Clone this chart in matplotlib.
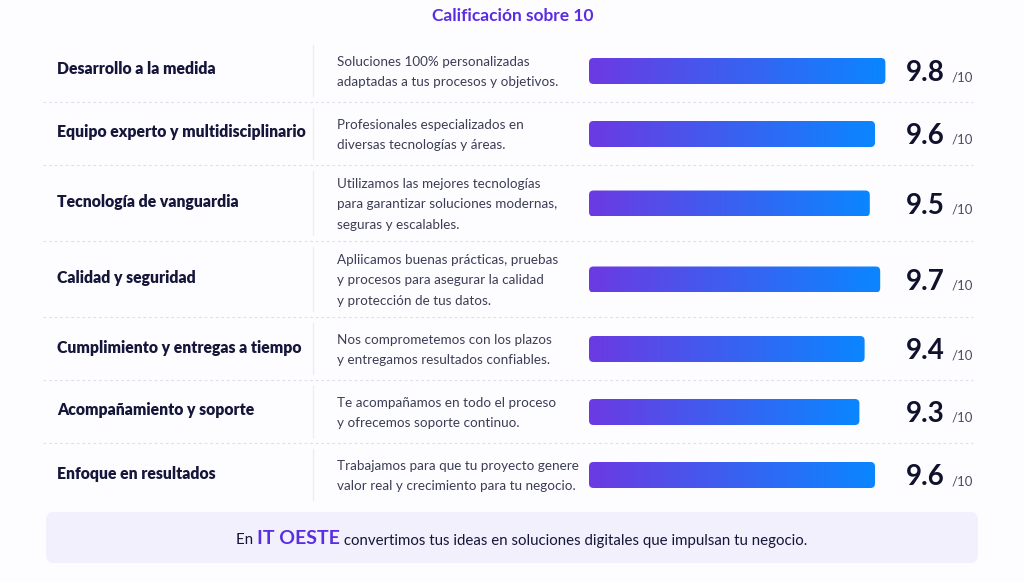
import numpy as np
import matplotlib
matplotlib.use('Agg')
import matplotlib.pyplot as plt
from matplotlib.patches import FancyBboxPatch
from matplotlib.offsetbox import TextArea, HPacker, AnnotationBbox
from matplotlib.colors import LinearSegmentedColormap

plt.rcParams['font.family'] = ['Lato', 'DejaVu Sans']

# datos del gráfico
TITLE = 'Calificación sobre 10'
CATEGORIES = [
    'Desarrollo a la medida',
    'Equipo experto y multidisciplinario',
    'Tecnología de vanguardia',
    'Calidad y seguridad',
    'Cumplimiento y entregas a tiempo',
    'Acompañamiento y soporte',
    'Enfoque en resultados',
]
DESCRIPTIONS = [
    ['Soluciones 100% personalizadas', 'adaptadas a tus procesos y objetivos.'],
    ['Profesionales especializados en', 'diversas tecnologías y áreas.'],
    ['Utilizamos las mejores tecnologías', 'para garantizar soluciones modernas,', 'seguras y escalables.'],
    ['Apliicamos buenas prácticas, pruebas', 'y procesos para asegurar la calidad', 'y protección de tus datos.'],
    ['Nos comprometemos con los plazos', 'y entregamos resultados confiables.'],
    ['Te acompañamos en todo el proceso', 'y ofrecemos soporte continuo.'],
    ['Trabajamos para que tu proyecto genere', 'valor real y crecimiento para tu negocio.'],
]
SCORES = [9.8, 9.6, 9.5, 9.7, 9.4, 9.3, 9.6]
SCORE_MAX = '/10'
FOOTER_PRE = 'En '
FOOTER_BRAND = 'IT OESTE'
FOOTER_POST = ' convertimos tus ideas en soluciones digitales que impulsan tu negocio.'

# estilos
BG = '#fdfdff'
PURPLE = '#5a2de3'
NAVY = '#15163a'
GRAY_TXT = '#3c3d56'
BAR_CMAP = LinearSegmentedColormap.from_list('bar', ['#6c3ae2', '#0a86ff'])

W, H = 1024, 582
TOP = 38.5
ROW_H = {2: 63, 3: 76}
LINE_STEP = 20.5
BAR_X0 = 589       # px donde empieza la barra
PX_PER_PT = 52     # px por punto de calificación
BAR_BASE = 4.1     # valor en el origen de la barra
BAR_H = 26

fig = plt.figure(figsize=(W / 100, H / 100), dpi=100)
fig.patch.set_facecolor(BG)
ax = fig.add_axes([0, 0, 1, 1])
ax.set_xlim(0, W)
ax.set_ylim(H, 0)
ax.axis('off')

axb = fig.add_axes([0, 0, 1, 1], facecolor='none')
xlim_b = (BAR_BASE - BAR_X0 / PX_PER_PT, BAR_BASE + (W - BAR_X0) / PX_PER_PT)

ax.text(513, 21, TITLE, ha='center', va='baseline', fontsize=12.5,
        fontweight='bold', color=PURPLE)

# filas
bounds = [TOP]
for d in DESCRIPTIONS:
    bounds.append(bounds[-1] + ROW_H[len(d)])

for i, (cat, desc, score) in enumerate(zip(CATEGORIES, DESCRIPTIONS, SCORES)):
    y0, y1 = bounds[i], bounds[i + 1]
    yc = (y0 + y1) / 2

    if i > 0:
        ax.plot([43, 973], [y0, y0], color='#dfdfea', lw=0.8,
                linestyle=(0, (2.5, 2.5)))
    ax.plot([313, 313], [y0 + 6, y1 - 6], color='#ececf2', lw=0.9)

    ax.text(57, yc + 4.5, cat, ha='left', va='baseline', fontsize=11.3,
            fontweight='heavy', color=NAVY)

    n = len(desc)
    for j, line in enumerate(desc):
        ax.text(337, yc + (j - (n - 1) / 2) * LINE_STEP + 6, line, ha='left',
                va='baseline', fontsize=9.7, color=GRAY_TXT)

    # barra con degradado
    yb = yc + 1
    patch = FancyBboxPatch((BAR_BASE, yb - BAR_H / 2), score - BAR_BASE, BAR_H,
                           boxstyle='round,pad=0,rounding_size=%f' % (4.5 / PX_PER_PT),
                           mutation_aspect=PX_PER_PT, facecolor='none',
                           edgecolor='none')
    axb.add_patch(patch)
    im = axb.imshow(np.linspace(0, 1, 256)[None, :], cmap=BAR_CMAP,
                    extent=(BAR_BASE, score, yb + BAR_H / 2, yb - BAR_H / 2),
                    aspect='auto', interpolation='bilinear')
    im.set_clip_path(patch)

    pack = HPacker(children=[
        TextArea('%.1f' % score, textprops=dict(fontsize=20, fontweight='bold',
                                                 color='#10112c')),
        TextArea(SCORE_MAX, textprops=dict(fontsize=9.5, color='#4a4b5e')),
    ], align='baseline', pad=0, sep=5)
    ab = AnnotationBbox(pack, (906, yb + 2), xycoords='data', box_alignment=(0, 0.5),
                        frameon=False, pad=0)
    ax.add_artist(ab)

axb.set_xlim(*xlim_b)
axb.set_ylim(H, 0)
axb.axis('off')

# pie
box = FancyBboxPatch((46, 512), 932, 51, boxstyle='round,pad=0,rounding_size=8',
                     facecolor='#f2f0fc', edgecolor='none')
ax.add_patch(box)
footer = HPacker(children=[
    TextArea(FOOTER_PRE, textprops=dict(fontsize=10.8, color=NAVY)),
    TextArea(FOOTER_BRAND, textprops=dict(fontsize=14, fontweight='bold', color=PURPLE)),
    TextArea(FOOTER_POST, textprops=dict(fontsize=10.8, color=NAVY)),
], align='baseline', pad=0, sep=0)
ax.add_artist(AnnotationBbox(footer, (522, 539), xycoords='data',
                             box_alignment=(0.5, 0.5), frameon=False, pad=0))

fig.savefig('out.png', dpi=100, facecolor=BG)
